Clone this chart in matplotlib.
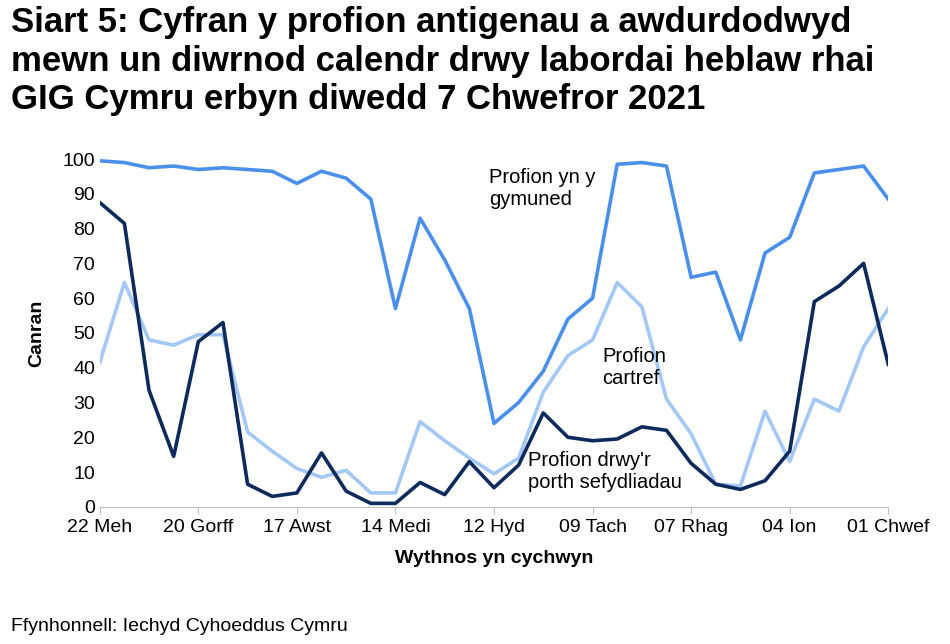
import matplotlib
matplotlib.use("Agg")
import matplotlib.pyplot as plt

community = [99.5, 99, 97.5, 98, 97, 97.5, 97, 96.5, 93, 96.5, 94.5, 88.5, 57, 83, 71, 57,
             24, 30, 39, 54, 60, 98.5, 99, 98, 66, 67.5, 48, 73, 77.5, 96, 97, 98, 88.5]
institutional = [87.5, 81.5, 33.5, 14.5, 47.5, 53, 6.5, 3, 4, 15.5, 4.5, 1, 1, 7, 3.5, 13,
                 5.5, 12, 27, 20, 19, 19.5, 23, 22, 12.5, 6.5, 5, 7.5, 16, 59, 63.5, 70, 41]
home = [41.5, 64.5, 48, 46.5, 49.5, 49.5, 21.5, 16, 11, 8.5, 10.5, 4, 4, 24.5, 19, 14,
        9.5, 14, 33, 43.5, 48, 64.5, 57.5, 31, 21, 6.5, 6, 27.5, 13, 31, 27.5, 46, 57]
tick_labels = ["22 Meh", "20 Gorff", "17 Awst", "14 Medi", "12 Hyd", "09 Tach",
               "07 Rhag", "04 Ion", "01 Chwef"]

plt.rcParams["font.family"] = ["Liberation Sans", "DejaVu Sans"]
fig = plt.figure(figsize=(9.5, 6.44), dpi=100)
ax = fig.add_axes([0.105, 0.213, 0.83, 0.54])

x = range(len(community))
ax.plot(x, community, color="#4a90ea", lw=2.6)
ax.plot(x, home, color="#a3c8f5", lw=2.6)
ax.plot(x, institutional, color="#0c2a5c", lw=2.6)

ax.set_xlim(0, len(community) - 1)
ax.set_ylim(0, 100)
ax.set_yticks(range(0, 101, 10))
ax.set_xticks(range(0, len(community), 4))
ax.set_xticklabels(tick_labels)
ax.tick_params(labelsize=14, length=0)
ax.tick_params(axis="x", length=5, color="#bfbfbf")
for s in ["top", "right", "left"]:
    ax.spines[s].set_visible(False)
ax.spines["bottom"].set_color("#bfbfbf")
ax.set_ylabel("Canran", fontsize=14, weight="bold", labelpad=12)
ax.set_xlabel("Wythnos yn cychwyn", fontsize=14, weight="bold", labelpad=10)

ax.text(15.8, 97.5, "Profion yn y\ngymuned", fontsize=14.5, va="top")
ax.text(20.4, 46, "Profion\ncartref", fontsize=14.5, va="top")
ax.text(17.4, 16, "Profion drwy'r\nporth sefydliadau", fontsize=14.5, va="top")

fig.text(0.012, 0.99, "Siart 5: Cyfran y profion antigenau a awdurdodwyd\nmewn un diwrnod calendr drwy labordai heblaw rhai\nGIG Cymru erbyn diwedd 7 Chwefror 2021",
         fontsize=25, weight="bold", va="top", linespacing=1.2)
fig.text(0.012, 0.02, "Ffynhonnell: Iechyd Cyhoeddus Cymru", fontsize=14)

fig.savefig("out.png", dpi=100)
